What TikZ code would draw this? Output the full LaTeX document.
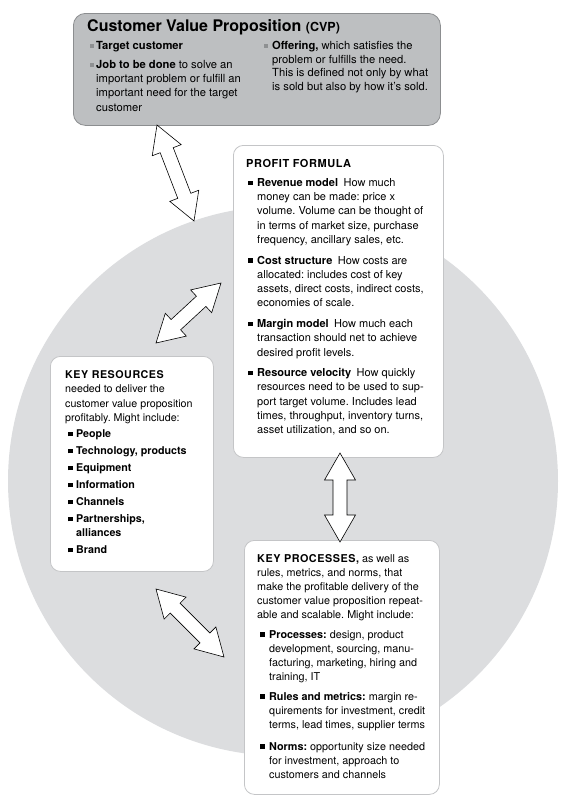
\documentclass[tikz,border=0pt]{standalone}
\usepackage{fontspec}
\setmainfont{TeX Gyre Heros}
\usetikzlibrary{calc}
\frenchspacing

\definecolor{ringgray}{HTML}{DCDDDF}
\definecolor{cvpgray}{HTML}{BDBFC1}
\definecolor{cvpline}{HTML}{8C8E90}
\definecolor{boxline}{HTML}{C4C5C7}
\definecolor{dotgray}{HTML}{8E9092}

\newcommand{\sqb}{\rule[1.2pt]{4.6pt}{4.6pt}}
\newcommand{\gsqb}{{\color{dotgray}\rule[1.6pt]{4pt}{4pt}}}
\newcommand{\itm}[1][9pt]{\makebox[#1][l]{\sqb}}
\newcommand{\gitm}[1][6pt]{\makebox[#1][l]{\gsqb}}
\newcommand{\ind}[1][9pt]{\hspace*{#1}}
\newcommand{\boxhead}[1]{{\bfseries\addfontfeatures{LetterSpace=5}#1}}

\newcommand{\hl}{27pt}
\newcommand{\hw}{15.5pt}
\newcommand{\sw}{7pt}
\newcommand{\dblarrow}[2]{%
	\draw[blockarrow] (#1)
		-- ($(#1)!\hl!(#2)!\hw!90:(#2)$) -- ($(#1)!\hl!(#2)!\sw!90:(#2)$)
		-- ($(#2)!\hl!(#1)!\sw!-90:(#1)$) -- ($(#2)!\hl!(#1)!\hw!-90:(#1)$)
		-- (#2)
		-- ($(#2)!\hl!(#1)!\hw!90:(#1)$) -- ($(#2)!\hl!(#1)!\sw!90:(#1)$)
		-- ($(#1)!\hl!(#2)!\sw!-90:(#2)$) -- ($(#1)!\hl!(#2)!\hw!-90:(#2)$)
		-- cycle;}

\tikzset{
	whitebox/.style={draw=boxline, fill=white, rounded corners=10pt, line width=0.8pt, inner sep=0pt, anchor=north west},
	cvpbox/.style={draw=cvpline, fill=cvpgray, rounded corners=12pt, line width=0.8pt, inner sep=0pt, anchor=north west},
	txt/.style={anchor=north west, inner sep=0pt, align=left},
	blockarrow/.style={draw=black, fill=white, line width=0.6pt, line join=miter},
}

\begin{document}
\begin{tikzpicture}[x=1pt, y=-1pt]
		\useasboundingbox (0,0) rectangle (565,804);
		\fill[ringgray] (283,481) circle[radius=275pt];

		\node[cvpbox, minimum width=367pt, minimum height=112pt] (cvp) at (73,13) {};
		\node[whitebox, minimum width=210pt, minimum height=312pt] (pf) at (233,145) {};
		\node[whitebox, minimum width=163pt, minimum height=215pt] (kr) at (50,356) {};
		\node[whitebox, minimum width=195pt, minimum height=254pt] (kp) at (244,540) {};

		\node[txt, font={\fontsize{16}{18}\selectfont\bfseries}] (cvp title) at (87,19.5)
			{Customer Value Proposition {\fontsize{12.5}{14}\selectfont(CVP)}};
		\node[txt, font={\fontsize{11.2}{14.3}\selectfont}] (cvp left) at (90,41)
			{\gitm\textbf{Target customer}\\[4.7pt]
			\gitm\textbf{Job to be done} to solve an\\
			\ind[6pt]important problem or fulfill an\\
			\ind[6pt]important need for the target\\
			\ind[6pt]customer};
		\node[txt, font={\fontsize{11.2}{13.7}\selectfont}] (cvp right) at (264,41)
			{\gitm[8pt]\textbf{Offering,} which satisfies the\\
			\ind[8pt]problem or fulfills the need.\\
			\ind[8pt]This is defined not only by what\\
			\ind[8pt]is sold but also by how it’s sold.};

		\node[txt, font={\fontsize{11}{14.3}\selectfont}] (pf text) at (246,159)
			{\boxhead{PROFIT FORMULA}\\[4.7pt]
			\ind[2pt]\itm\textbf{Revenue model}\enspace How much\\
			\ind[11pt]money can be made: price x\\
			\ind[11pt]volume. Volume can be thought of\\
			\ind[11pt]in terms of market size, purchase\\
			\ind[11pt]frequency, ancillary sales, etc.\\[6.2pt]
			\ind[2pt]\itm\textbf{Cost structure}\enspace How costs are\\
			\ind[11pt]allocated: includes cost of key\\
			\ind[11pt]assets, direct costs, indirect costs,\\
			\ind[11pt]economies of scale.\\[6.2pt]
			\ind[2pt]\itm\textbf{Margin model}\enspace How much each\\
			\ind[11pt]transaction should net to achieve\\
			\ind[11pt]desired profit levels.\\[6.2pt]
			\ind[2pt]\itm\textbf{Resource velocity}\enspace How quickly\\
			\ind[11pt]resources need to be used to sup-\\
			\ind[11pt]port target volume. Includes lead\\
			\ind[11pt]times, throughput, inventory turns,\\
			\ind[11pt]asset utilization, and so on.};

		\node[txt, font={\fontsize{10.7}{14.5}\selectfont}] (kr text) at (65,370)
			{\boxhead{KEY RESOURCES}\\
			needed to deliver the\\
			customer value proposition\\
			profitably. Might include:\\[1.5pt]
			\ind[3pt]\itm[8pt]\textbf{People}\\[2.5pt]
			\ind[3pt]\itm[8pt]\textbf{Technology, products}\\[2.5pt]
			\ind[3pt]\itm[8pt]\textbf{Equipment}\\[2.5pt]
			\ind[3pt]\itm[8pt]\textbf{Information}\\[2.5pt]
			\ind[3pt]\itm[8pt]\textbf{Channels}\\[2.5pt]
			\ind[3pt]\itm[8pt]\textbf{Partnerships,}\\[-0.5pt]
			\ind[11pt]\textbf{alliances}\\[2.5pt]
			\ind[3pt]\itm[8pt]\textbf{Brand}};

		\node[txt, font={\fontsize{10.8}{14}\selectfont}] (kp text) at (257,554)
			{\boxhead{KEY PROCESSES,} as well as\\
			rules, metrics, and norms, that\\
			make the profitable delivery of the\\
			customer value proposition repeat-\\
			able and scalable. Might include:\\[6pt]
			\ind[3pt]\itm\textbf{Processes:} design, product\\
			\ind[12pt]development, sourcing, manu-\\
			\ind[12pt]facturing, marketing, hiring and\\
			\ind[12pt]training, IT\\[6pt]
			\ind[3pt]\itm\textbf{Rules and metrics:} margin re-\\
			\ind[12pt]quirements for investment, credit\\
			\ind[12pt]terms, lead times, supplier terms\\[8pt]
			\ind[3pt]\itm\textbf{Norms:} opportunity size needed\\
			\ind[12pt]for investment, approach to\\
			\ind[12pt]customers and channels};

		\coordinate (cvp tip) at (157,125);
		\coordinate (ring tip) at (194,221);
		\coordinate (pf tip) at (221,283);
		\coordinate (kr top tip) at (156,343);
		\coordinate (pf bottom tip) at (340,453);
		\coordinate (kp top tip) at (340,542);
		\coordinate (kr bottom tip) at (156,589);
		\coordinate (kp tip) at (224,657);

		\dblarrow{cvp tip}{ring tip}
		\dblarrow{pf tip}{kr top tip}
		\dblarrow{pf bottom tip}{kp top tip}
		\dblarrow{kr bottom tip}{kp tip}
	\end{tikzpicture}
\end{document}
